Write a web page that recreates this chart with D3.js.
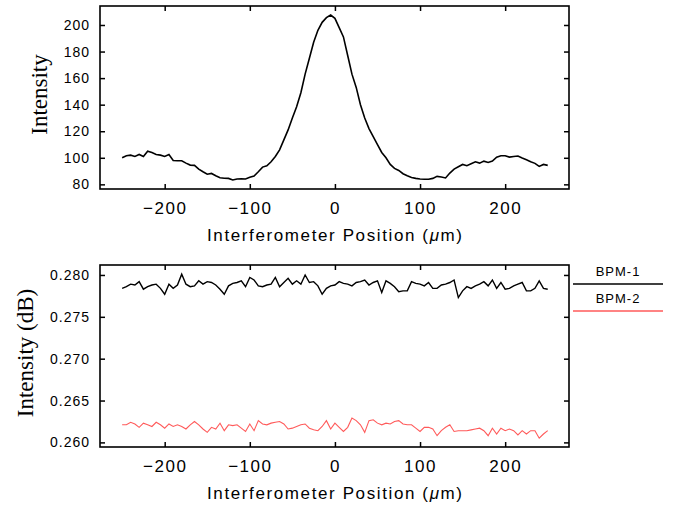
<!DOCTYPE html>
<html lang="en">
  <head>
    <meta charset="UTF-8" />
    <title>Interferometer scan</title>
    <script src="https://cdn.jsdelivr.net/npm/d3@7"></script>
  </head>
  <style>
    body { margin: 0; background: #fff; }
    .tick text { font-family: "Liberation Sans", Arial, sans-serif; fill: #000; }
  </style>
  <body>
    <script>
      // positions of the scan, in micrometres
      let positions = [-250,-245,-240,-235,-230,-225,-220,-215,-210,-205,-200,-195,-190,-185,-180,-175,-170,-165,-160,-155,
        -150,-145,-140,-135,-130,-125,-120,-115,-110,-105,-100,-95,-90,-85,-80,-75,-70,-65,-60,-55,
        -50,-45,-40,-35,-30,-25,-20,-15,-10,-5,0,5,10,15,20,25,30,35,40,45,
        50,55,60,65,70,75,80,85,90,95,100,105,110,115,120,125,130,135,140,145,
        150,155,160,165,170,175,180,185,190,195,200,205,210,215,220,225,230,235,240,245,250];

      // top panel: interferogram intensity
      let intensity = [100,101.5,102,101,102.5,101,105,104,102.5,102,101,102.5,98,97.8,97.8,96,94.5,94.3,91.5,89.5,
        87.6,88.2,86.5,85,84.6,84.5,83.3,84,84.1,84,85.3,86.3,89.5,93,94,97,101,106,113.5,121,
        130,138.5,149,163,175,187,196,202,205.5,207.5,205,198,191,177,163,153,140,130,122,116,
        110,104,100,95,92,90.5,88,86.5,85.2,84.5,84,83.8,83.8,84.5,86,85.5,84.8,88.5,91.5,93.3,
        95,94,95.5,97,96,97.5,96.5,97.5,100.5,101.5,101.5,100.5,101,101.3,99.8,98.5,97,95.8,93.5,95,94.3];

      // bottom panel: two beam position monitors
      let bpm1 = [.2784,.2786,.2789,.2788,.2792,.2783,.2786,.2788,.2789,.2784,.2777,.2789,.2784,.2788,.2801,.2789,.2786,.2787,.2793,.2789,
        .2792,.2791,.2788,.2783,.2777,.2787,.2790,.2791,.2793,.2786,.2797,.2794,.2787,.2786,.2788,.2789,.2797,.2786,.2791,.2796,
        .2789,.2793,.2789,.2800,.2791,.2792,.2787,.2777,.2784,.2787,.2788,.2792,.2790,.2789,.2787,.2791,.2792,.2794,.2788,.2791,
        .2793,.2779,.2793,.2790,.2786,.2780,.2781,.2781,.2792,.2790,.2789,.2787,.2791,.2784,.2784,.2788,.2789,.2791,.2794,.2773,
        .2781,.2786,.2784,.2787,.2789,.2792,.2787,.2794,.2784,.2791,.2783,.2784,.2787,.2789,.2791,.2781,.2781,.2784,.2793,.2784,.2783];
      let bpm2 = [.2621,.2621,.2624,.2622,.2618,.2623,.2621,.2619,.2624,.2621,.2617,.2622,.2619,.2621,.2619,.2616,.2621,.2625,.2621,.2616,
        .2612,.2618,.2616,.2623,.2614,.2621,.2620,.2621,.2617,.2613,.2622,.2614,.2626,.2622,.2621,.2623,.2624,.2625,.2622,.2616,
        .2617,.2619,.2621,.2622,.2617,.2615,.2614,.2619,.2626,.2616,.2623,.2618,.2613,.2618,.2629,.2626,.2621,.2612,.2626,.2627,
        .2623,.2621,.2623,.2622,.2625,.2626,.2622,.2621,.2621,.2617,.2613,.2618,.2618,.2616,.2608,.2614,.2618,.2621,.2613,.2614,
        .2614,.2614,.2615,.2616,.2617,.2614,.2608,.2617,.2610,.2617,.2614,.2616,.2614,.2609,.2614,.2610,.2614,.2614,.2605,.2610,.2614];

      let xTicks = [-200, -100, 0, 100, 200];
      let topTicks = [80, 100, 120, 140, 160, 180, 200];
      let bottomTicks = [0.260, 0.265, 0.270, 0.275, 0.280];
      let legendNames = ["BPM-1", "BPM-2"];
      let legendColors = ["#000", "#ff5a5a"];

      let width = 683, height = 510;
      let svg = d3.select("body").append("svg")
        .attr("width", width).attr("height", height);

      let left = 100, right = 569;

      function panel(top, bottom, yDomain, yTicks, yFormat, yTitle, titleX) {
        let g = svg.append("g");
        let x = d3.scaleLinear().domain([-276, 275]).range([left, right]);
        let y = d3.scaleLinear().domain(yDomain).range([bottom, top]);

        // inward ticks on all four sides
        let xb = g.append("g").attr("transform", `translate(0,${bottom})`)
          .call(d3.axisBottom(x).tickValues(xTicks).tickSize(-5).tickPadding(13).tickFormat(d3.format("d")));
        xb.selectAll("text").attr("font-size", 17).attr("letter-spacing", "1.5px");
        g.append("g").attr("transform", `translate(0,${top})`)
          .call(d3.axisTop(x).tickValues(xTicks).tickSize(-5).tickFormat(""));
        let yl = g.append("g").attr("transform", `translate(${left},0)`)
          .call(d3.axisLeft(y).tickValues(yTicks).tickSize(-5).tickPadding(10).tickFormat(yFormat));
        yl.selectAll("text").attr("font-size", 14).attr("letter-spacing", "1px");
        g.append("g").attr("transform", `translate(${right},0)`)
          .call(d3.axisRight(y).tickValues(yTicks).tickSize(-5).tickFormat(""));
        g.selectAll(".domain").remove();
        g.selectAll(".tick line").attr("stroke", "#000").attr("stroke-width", 1.5);

        g.append("rect")
          .attr("x", left).attr("y", top)
          .attr("width", right - left).attr("height", bottom - top)
          .attr("fill", "none").attr("stroke", "#000").attr("stroke-width", 1.6);

        let t = g.append("text")
          .attr("x", (left + right) / 2).attr("y", bottom + 52)
          .attr("text-anchor", "middle")
          .attr("font-family", "Liberation Sans, Arial, sans-serif")
          .attr("font-size", 17)
          .attr("textLength", 255).attr("lengthAdjust", "spacing");
        t.append("tspan").text("Interferometer Position (");
        t.append("tspan").attr("font-style", "italic").text("\u03bc");
        t.append("tspan").text("m)");

        g.append("text")
          .attr("transform", `translate(${titleX},${(top + bottom) / 2 - 3}) rotate(-90)`)
          .attr("text-anchor", "middle")
          .attr("font-family", "Liberation Serif, Times New Roman, serif")
          .attr("font-size", 23)
          .text(yTitle);

        return { x, y, g };
      }

      let p1 = panel(6, 189, [76.5, 214.3], topTicks, d3.format("d"), "Intensity", 47);
      let p2 = panel(265, 447, [0.25945, 0.28119], bottomTicks, d3.format(".3f"), "Intensity (dB)", 33);

      let line1 = d3.line().x((d, i) => p1.x(positions[i])).y(d => p1.y(d));
      p1.g.append("path").datum(intensity)
        .attr("d", line1).attr("fill", "none").attr("stroke", "#000").attr("stroke-width", 1.6);

      let line2 = d3.line().x((d, i) => p2.x(positions[i])).y(d => p2.y(d));
      [bpm1, bpm2].forEach((s, k) => {
        p2.g.append("path").datum(s)
          .attr("d", line2).attr("fill", "none")
          .attr("stroke", legendColors[k]).attr("stroke-width", k === 0 ? 1.4 : 1.1);
      });

      // legend to the right of the lower panel
      let lg = svg.append("g");
      legendNames.forEach((name, k) => {
        let yy = 276 + k * 27;
        lg.append("text")
          .attr("x", 618).attr("y", yy)
          .attr("text-anchor", "middle")
          .attr("font-family", "Liberation Sans, Arial, sans-serif")
          .attr("font-size", 13).attr("letter-spacing", "1px")
          .text(name);
        lg.append("line")
          .attr("x1", 573).attr("x2", 663)
          .attr("y1", yy + 8).attr("y2", yy + 8)
          .attr("stroke", legendColors[k]).attr("stroke-width", 1.6);
      });
    </script>
  </body>
</html>
